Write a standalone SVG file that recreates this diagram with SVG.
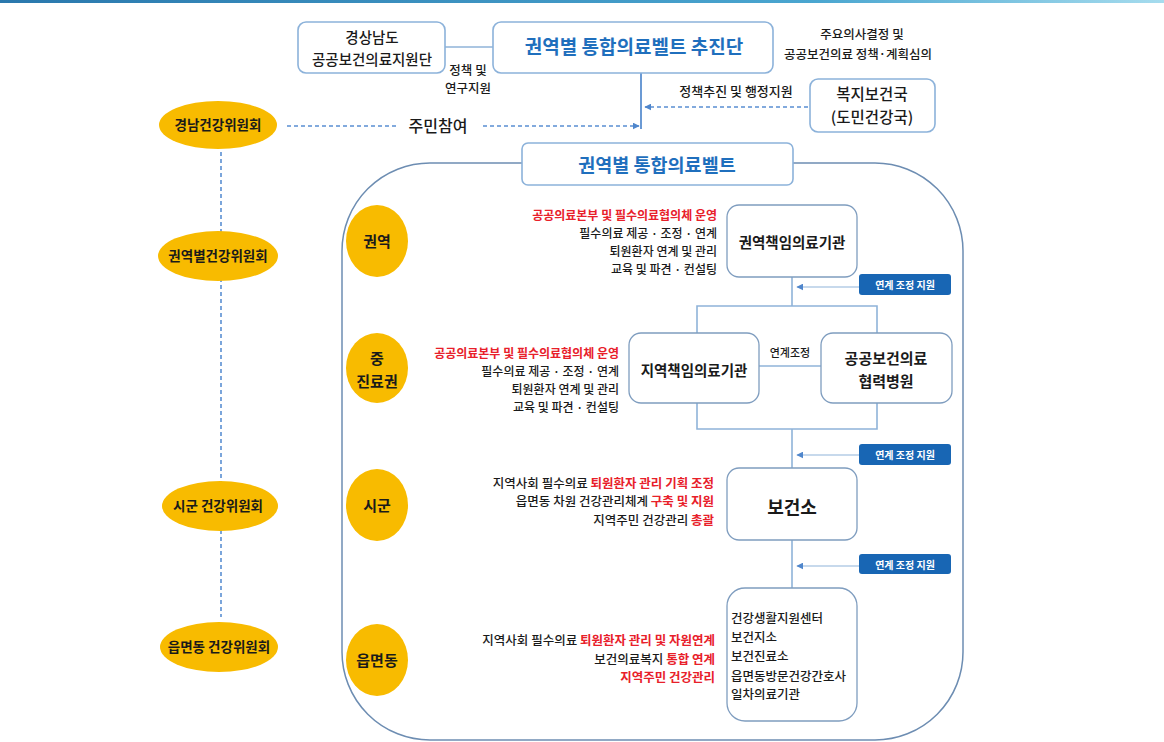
<svg xmlns="http://www.w3.org/2000/svg" width="1164" height="742" viewBox="0 0 1164 742">
<defs>
<linearGradient id="topbar" x1="0" y1="0" x2="1" y2="0">
<stop offset="0" stop-color="#2a78ad"/>
<stop offset="0.7" stop-color="#4aa6d0"/>
<stop offset="1" stop-color="#a6dcee"/>
</linearGradient>
<marker id="arr" viewBox="0 0 10 10" refX="9" refY="5" markerWidth="7" markerHeight="7" orient="auto" markerUnits="userSpaceOnUse">
<path d="M0,0 L10,5 L0,10 z" fill="#4f86cc"/>
</marker>
<style>
text{font-family:"Noto Sans CJK KR","Noto Sans",sans-serif;fill:#1a1a1a;dominant-baseline:central;font-weight:500}
.box{fill:#fff;stroke:#8cb2da;stroke-width:1.6}
.nbox{fill:#fff;stroke:#7f9dbf;stroke-width:1.3}
.gold{fill:#f8bb00}
.conn{stroke:#8fb3d9;stroke-width:1.6;fill:none}
.vconn{stroke:#5b8fd0;stroke-width:1.8;fill:none}
.dash{stroke:#5a8fd2;stroke-width:1.6;stroke-dasharray:4 3;fill:none}
.thin{stroke:#8fb3d9;stroke-width:1.2;fill:none}
.tag{fill:#1866b4}
.tagt{fill:#fff;font-size:10px;font-weight:bold;text-anchor:middle}
.blue{fill:#1f6fbd;font-weight:bold;text-anchor:middle}
.c{text-anchor:middle}
.r{text-anchor:end}
.red{fill:#e8202a;font-weight:bold}
.lbl{font-size:13.5px;font-weight:bold;text-anchor:middle}
.cl{font-size:15px;font-weight:bold;text-anchor:middle}
.nt{font-weight:bold;text-anchor:middle}
</style>
</defs>
<rect x="0" y="0" width="1164" height="742" fill="#fff"/>
<rect x="0" y="0" width="1164" height="3" fill="url(#topbar)"/>

<g id="connectors">
<line class="conn" x1="445" y1="47" x2="493" y2="47"/>
<line class="vconn" x1="641" y1="73" x2="641" y2="129"/>
<line class="dash" x1="808" y1="107" x2="645" y2="107" marker-end="url(#arr)"/>
<line class="dash" x1="287" y1="126" x2="398" y2="126"/>
<line class="dash" x1="483" y1="126" x2="639" y2="126" marker-end="url(#arr)"/>
<line class="dash" x1="221" y1="152" x2="221" y2="617"/>
<rect x="342" y="163" width="621" height="577" rx="88" ry="88" fill="none" stroke="#6d8db2" stroke-width="1.5"/>
<line class="conn" x1="792" y1="277" x2="792" y2="306"/>
<polyline class="conn" points="697,333 697,306 877,306 877,333"/>
<line class="conn" x1="759" y1="366" x2="821" y2="366"/>
<polyline class="conn" points="697,403 697,429 877,429 877,403"/>
<line class="conn" x1="792" y1="429" x2="792" y2="468"/>
<line class="conn" x1="792" y1="540" x2="792" y2="588"/>
<line class="thin" x1="859" y1="287" x2="797" y2="287" marker-end="url(#arr)"/>
<line class="thin" x1="859" y1="455" x2="797" y2="455" marker-end="url(#arr)"/>
<line class="thin" x1="859" y1="566" x2="797" y2="566" marker-end="url(#arr)"/>
</g>

<g id="label-texts">
<text class="c" x="468" y="69" font-size="12.5">정책 및</text>
<text class="c" x="468" y="87" font-size="12.5">연구지원</text>
<text class="c" x="862" y="33" font-size="12.5">주요의사결정 및</text>
<text class="c" x="858" y="53" font-size="12.5">공공보건의료 정책·계획심의</text>
<text class="c" x="736" y="90" font-size="13">정책추진 및 행정지원</text>
<text class="c" x="438" y="125" font-size="16">주민참여</text>
<text class="c" x="790" y="352" font-size="11">연계조정</text>
</g>

<g id="n-gyeongsangnamdo">
<rect class="box" x="298" y="22" width="147" height="51" rx="8"/>
<text class="c" x="372" y="36" font-size="14.5">경상남도</text>
<text class="c" x="372" y="58" font-size="14.5">공공보건의료지원단</text>
</g>
<g id="n-chujindan">
<rect class="box" x="493" y="22" width="280" height="51" rx="8"/>
<text class="blue" x="634" y="45" font-size="19">권역별 통합의료벨트 추진단</text>
</g>
<g id="n-bokji">
<rect class="box" x="810" y="79" width="125" height="53" rx="8"/>
<text class="c" x="872" y="93" font-size="15.5">복지보건국</text>
<text class="c" x="872" y="116" font-size="15.5">(도민건강국)</text>
</g>
<g id="n-gyeongnam">
<ellipse class="gold" cx="218" cy="125" rx="59" ry="24"/>
<text class="lbl" x="218" y="124">경남건강위원회</text>
</g>
<g id="n-belt">
<rect class="box" x="522" y="143" width="271" height="42" rx="6"/>
<text class="blue" x="657" y="164" font-size="18.5">권역별 통합의료벨트</text>
</g>
<g id="n-kwon-committee">
<ellipse class="gold" cx="218" cy="256" rx="60" ry="25"/>
<text class="lbl" x="218" y="255">권역별건강위원회</text>
</g>
<g id="n-sigun-committee">
<ellipse class="gold" cx="220" cy="506" rx="58" ry="25"/>
<text class="lbl" x="218" y="505">시군 건강위원회</text>
</g>
<g id="n-eup-committee">
<ellipse class="gold" cx="219" cy="647" rx="59" ry="25"/>
<text class="lbl" x="219" y="646">읍면동 건강위원회</text>
</g>

<g id="n-kwon">
<ellipse class="gold" cx="377" cy="241" rx="31" ry="36"/>
<text class="cl" x="377" y="240">권역</text>
</g>
<g id="n-jung">
<ellipse class="gold" cx="377" cy="368" rx="31" ry="35"/>
<text class="cl" x="377" y="357">중</text>
<text class="cl" x="377" y="380">진료권</text>
</g>
<g id="n-sigun">
<ellipse class="gold" cx="377" cy="505" rx="31" ry="36"/>
<text class="cl" x="377" y="504">시군</text>
</g>
<g id="n-eup">
<ellipse class="gold" cx="377" cy="660" rx="31" ry="36"/>
<text class="cl" x="377" y="659">읍면동</text>
</g>

<g id="t-kwon">
<text class="r red" x="717" y="214" font-size="12">공공의료본부 및 필수의료협의체 운영</text>
<text class="r" x="717" y="232" font-size="12">필수의료 제공 · 조정 · 연계</text>
<text class="r" x="717" y="250" font-size="12">퇴원환자 연계 및 관리</text>
<text class="r" x="717" y="268" font-size="12">교육 및 파견 · 컨설팅</text>
</g>
<g id="t-jung">
<text class="r red" x="619" y="352" font-size="12">공공의료본부 및 필수의료협의체 운영</text>
<text class="r" x="619" y="370" font-size="12">필수의료 제공 · 조정 · 연계</text>
<text class="r" x="619" y="388" font-size="12">퇴원환자 연계 및 관리</text>
<text class="r" x="619" y="406" font-size="12">교육 및 파견 · 컨설팅</text>
</g>
<g id="t-sigun">
<text class="r" x="714" y="482" font-size="12.5">지역사회 필수의료 <tspan class="red">퇴원환자 관리 기획 조정</tspan></text>
<text class="r" x="714" y="500" font-size="12.5">읍면동 차원 건강관리체계 <tspan class="red">구축 및 지원</tspan></text>
<text class="r" x="714" y="519" font-size="12.5">지역주민 건강관리 <tspan class="red">총괄</tspan></text>
</g>
<g id="t-eup">
<text class="r" x="715" y="639" font-size="12.5">지역사회 필수의료 <tspan class="red">퇴원환자 관리 및 자원연계</tspan></text>
<text class="r" x="715" y="658" font-size="12.5">보건의료복지 <tspan class="red">통합 연계</tspan></text>
<text class="r red" x="715" y="676" font-size="12.5">지역주민 건강관리</text>
</g>

<g id="n-kwon-hosp">
<rect class="nbox" x="727" y="205" width="130" height="72" rx="12"/>
<text class="nt" x="792" y="241" font-size="14.5">권역책임의료기관</text>
</g>
<g id="n-region-hosp">
<rect class="nbox" x="629" y="333" width="130" height="70" rx="12"/>
<text class="nt" x="694" y="369" font-size="14.5">지역책임의료기관</text>
</g>
<g id="n-partner-hosp">
<rect class="nbox" x="821" y="333" width="131" height="70" rx="12"/>
<text class="nt" x="886" y="357" font-size="15">공공보건의료</text>
<text class="nt" x="886" y="380" font-size="15">협력병원</text>
</g>
<g id="n-bogeonso">
<rect class="nbox" x="727" y="468" width="130" height="72" rx="12"/>
<text class="nt" x="792" y="506" font-size="18">보건소</text>
</g>
<g id="n-local">
<rect class="nbox" x="727" y="588" width="130" height="133" rx="18"/>
<text x="731" y="617" font-size="12.5">건강생활지원센터</text>
<text x="731" y="636" font-size="12.5">보건지소</text>
<text x="731" y="655" font-size="12.5">보건진료소</text>
<text x="731" y="675" font-size="12.5">읍면동방문건강간호사</text>
<text x="731" y="693" font-size="12.5">일차의료기관</text>
</g>

<g id="n-tag1">
<rect class="tag" x="859" y="274" width="92" height="21" rx="3"/>
<text class="tagt" x="905" y="284.5">연계 조정 지원</text>
</g>
<g id="n-tag2">
<rect class="tag" x="859" y="444" width="92" height="21" rx="3"/>
<text class="tagt" x="905" y="454.5">연계 조정 지원</text>
</g>
<g id="n-tag3">
<rect class="tag" x="859" y="554" width="92" height="20" rx="3"/>
<text class="tagt" x="905" y="564">연계 조정 지원</text>
</g>
</svg>
